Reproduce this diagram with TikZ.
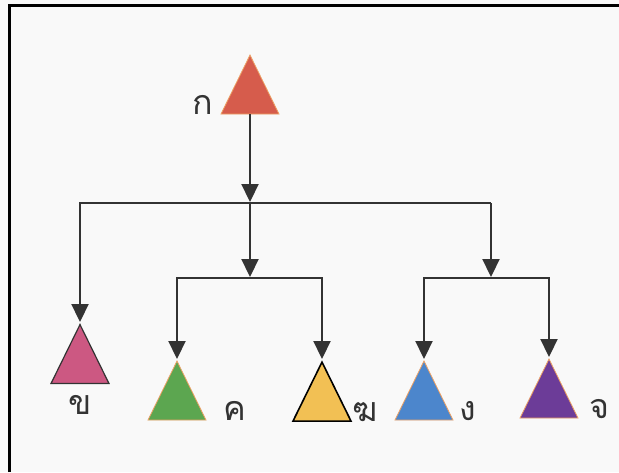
\documentclass[tikz,border=0pt]{standalone}
\usepackage{fontspec}
\newfontfamily\thaifont[Script=Thai]{Loma}
\usetikzlibrary{arrows.meta, shapes.geometric, positioning}
\definecolor{lineGray}{gray}{0.2}
\definecolor{paper}{gray}{0.975}
\definecolor{rimOrange}{RGB}{236,160,100}
\definecolor{kaRed}{RGB}{214,92,76}
\definecolor{khoPink}{RGB}{204,88,130}
\definecolor{khoGreen}{RGB}{92,166,80}
\definecolor{khoYellow}{RGB}{242,192,84}
\definecolor{ngoBlue}{RGB}{76,134,204}
\definecolor{choPurple}{RGB}{108,60,152}

\tikzset{
    tri/.style={isosceles triangle, shape border rotate=90,
        isosceles triangle stretches, minimum width=58pt, minimum height=59pt,
        inner sep=0pt, anchor=apex, line width=0.8pt, draw=rimOrange, fill=#1},
    link/.style={line width=2.2pt, lineGray},
    arr/.style={link, -{Triangle[length=18pt, width=17pt]}, shorten >=1pt},
    letter/.style={font=\thaifont\fontsize{34}{36}\selectfont, text=lineGray, inner sep=0pt}
}

\begin{document}
\begin{tikzpicture}[x=1pt, y=-1pt]
    \useasboundingbox (0,0) rectangle (619,472);
    \fill[paper] (0,0) rectangle (619,472);
    \draw[line width=3pt, black] (9.5,472) -- (9.5,5.5) -- (619,5.5);

    % Triangles
    \node[tri=kaRed] (ka) at (250,54) {};
    \node[tri=khoPink, draw=black!80, line width=1.2pt] (kho) at (80,323) {};
    \node[tri=khoGreen] (khokhwai) at (177,360) {};
    \node[tri=khoYellow, draw=black, line width=1.6pt] (khorakhang) at (322,360) {};
    \node[tri=ngoBlue] (ngo) at (424,360) {};
    \node[tri=choPurple] (cho) at (549,358) {};

    % Letters
    \node[letter, left=7pt of ka.left corner, anchor=south east] (kaT) {ก};
    \node[letter, below=11pt of kho.south, anchor=north] (khoT) {ข};
    \node[letter, right=17pt of khokhwai.right corner, anchor=south west] (khokhwaiT) {ค};
    \node[letter, right=0pt of khorakhang.right corner, anchor=south west] (khorakhangT) {ฆ};
    \node[letter, right=6pt of ngo.right corner, anchor=south west] (ngoT) {ง};
    \node[letter, right=11pt of cho.right corner, anchor=south west] (choT) {จ};

    % Branch points
    \coordinate (top) at (250,203);
    \coordinate (mid) at (250,278);
    \coordinate (rightTop) at (491,203);
    \coordinate (right) at (491,278);

    % Connectors
    \draw[arr] (ka.south) -- (top);
    \draw[link] (kho |- top) -- (rightTop);
    \draw[arr] (top) -- (mid);
    \draw[arr] (rightTop) -- (right);
    \draw[arr] (top) -| (kho.apex);
    \draw[arr] (mid) -| (khokhwai.apex);
    \draw[arr] (mid) -| (khorakhang.apex);
    \draw[arr] (right) -| (ngo.apex);
    \draw[arr] (right) -| (cho.apex);
\end{tikzpicture}
\end{document}
